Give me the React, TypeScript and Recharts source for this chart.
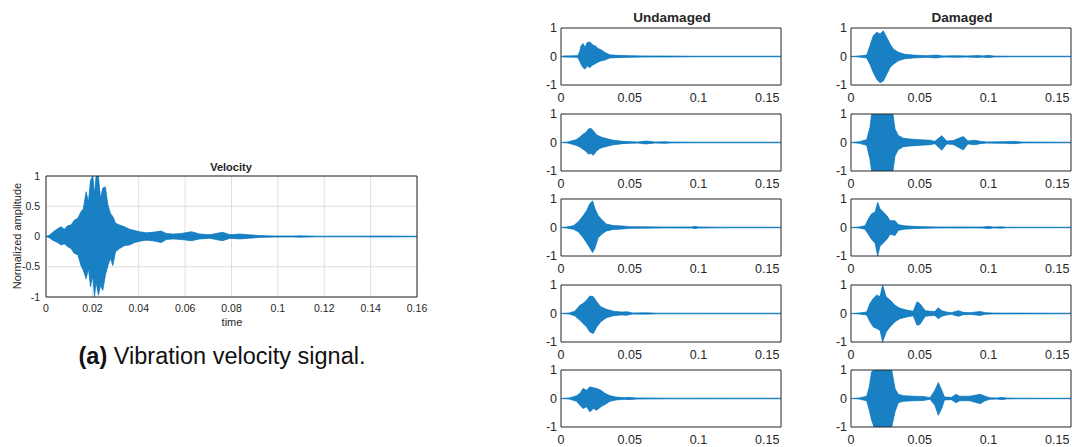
import { ComposedChart, Area, XAxis, YAxis, CartesianGrid, ReferenceArea } from 'recharts'

const BLUE = '#0072BD'
const INK = '#262626'
const FONT = '"Liberation Sans", Arial, Helvetica, sans-serif'

// envelopes (upper / lower), time in s
const VEL_T = [0, 0.0014, 0.0029, 0.005, 0.0065, 0.0079, 0.0094, 0.0108, 0.0122, 0.0137, 0.0151, 0.0161, 0.0173, 0.0183, 0.0192, 0.0202, 0.0209, 0.0216, 0.0226, 0.0235, 0.0245, 0.0256, 0.0267, 0.0278, 0.0288, 0.03, 0.0317, 0.0339, 0.036, 0.0382, 0.0403, 0.0432, 0.0461, 0.0497, 0.0519, 0.0548, 0.0584, 0.0627, 0.0663, 0.0706, 0.0761, 0.0793, 0.0836, 0.0872, 0.0922, 0.098, 0.1066, 0.1095, 0.1167, 0.1311, 0.1455, 0.16]
const VEL_HI = [0, 0.02, 0.07, 0.13, 0.16, 0.12, 0.18, 0.19, 0.27, 0.3, 0.41, 0.46, 0.74, 0.57, 0.93, 1, 0.69, 1, 1, 0.63, 0.8, 0.82, 0.52, 0.38, 0.33, 0.22, 0.19, 0.16, 0.12, 0.1, 0.08, 0.06, 0.07, 0.09, 0.05, 0.04, 0.05, 0.08, 0.04, 0.03, 0.07, 0.03, 0.04, 0.03, 0.015, 0.01, 0.008, 0.012, 0.006, 0.006, 0.007, 0.004]
const VEL_LO = [0, -0.02, -0.06, -0.1, -0.14, -0.12, -0.17, -0.2, -0.28, -0.3, -0.48, -0.56, -0.7, -0.53, -0.83, -0.64, -1, -0.75, -0.97, -0.81, -0.89, -0.64, -0.48, -0.36, -0.48, -0.25, -0.2, -0.15, -0.14, -0.1, -0.08, -0.06, -0.07, -0.1, -0.05, -0.04, -0.05, -0.07, -0.04, -0.03, -0.07, -0.03, -0.04, -0.03, -0.015, -0.01, -0.008, -0.012, -0.006, -0.006, -0.007, -0.004]

const UND1_T = [0, 0.002, 0.012, 0.0135, 0.0145, 0.016, 0.0175, 0.019, 0.021, 0.023, 0.025, 0.027, 0.0295, 0.032, 0.0355, 0.04, 0.05, 0.06, 0.08, 0.1, 0.16]
const UND1_HI = [0, 0.02, 0.03, 0.15, 0.37, 0.46, 0.32, 0.49, 0.51, 0.41, 0.37, 0.28, 0.23, 0.14, 0.06, 0.04, 0.03, 0.02, 0.015, 0.01, 0.01]
const UND1_LO = [0, -0.02, -0.03, -0.15, -0.27, -0.39, -0.44, -0.33, -0.39, -0.3, -0.25, -0.19, -0.15, -0.12, -0.05, -0.04, -0.03, -0.02, -0.015, -0.01, -0.01]

const UND2_T = [0, 0.005, 0.011, 0.014, 0.016, 0.018, 0.02, 0.0218, 0.0235, 0.026, 0.028, 0.0296, 0.0344, 0.038, 0.045, 0.05, 0.056, 0.0615, 0.064, 0.068, 0.0755, 0.08, 0.1, 0.16]
const UND2_HI = [0, 0.02, 0.1, 0.2, 0.29, 0.35, 0.47, 0.5, 0.41, 0.26, 0.22, 0.18, 0.12, 0.08, 0.04, 0.03, 0.02, 0.05, 0.04, 0.02, 0.03, 0.015, 0.01, 0.01]
const UND2_LO = [0, -0.02, -0.1, -0.17, -0.24, -0.3, -0.41, -0.38, -0.45, -0.29, -0.22, -0.18, -0.12, -0.08, -0.04, -0.03, -0.02, -0.05, -0.04, -0.02, -0.03, -0.015, -0.01, -0.01]

const UND3_T = [0, 0.004, 0.009, 0.0126, 0.0162, 0.0187, 0.021, 0.023, 0.0247, 0.027, 0.0296, 0.033, 0.038, 0.045, 0.05, 0.061, 0.075, 0.095, 0.0975, 0.1, 0.12, 0.16]
const UND3_HI = [0, 0.02, 0.06, 0.2, 0.42, 0.6, 0.84, 0.93, 0.66, 0.42, 0.28, 0.12, 0.07, 0.05, 0.03, 0.025, 0.015, 0.02, 0.04, 0.02, 0.01, 0.01]
const UND3_LO = [0, -0.02, -0.06, -0.15, -0.36, -0.54, -0.72, -0.88, -0.72, -0.36, -0.24, -0.12, -0.07, -0.05, -0.03, -0.025, -0.015, -0.02, -0.04, -0.02, -0.01, -0.01]

const UND4_T = [0, 0.006, 0.01, 0.0138, 0.016, 0.0187, 0.021, 0.0235, 0.026, 0.0289, 0.033, 0.038, 0.044, 0.048, 0.052, 0.062, 0.07, 0.1, 0.16]
const UND4_HI = [0, 0.02, 0.08, 0.29, 0.35, 0.47, 0.61, 0.59, 0.41, 0.24, 0.15, 0.08, 0.05, 0.06, 0.02, 0.025, 0.012, 0.01, 0.01]
const UND4_LO = [0, -0.02, -0.08, -0.24, -0.35, -0.47, -0.65, -0.7, -0.47, -0.29, -0.15, -0.08, -0.05, -0.06, -0.02, -0.025, -0.012, -0.01, -0.01]

const UND5_T = [0, 0.006, 0.0114, 0.0138, 0.016, 0.0187, 0.021, 0.0235, 0.026, 0.029, 0.032, 0.0356, 0.04, 0.046, 0.049, 0.055, 0.08, 0.16]
const UND5_HI = [0, 0.02, 0.1, 0.18, 0.35, 0.29, 0.41, 0.38, 0.35, 0.29, 0.18, 0.1, 0.05, 0.03, 0.04, 0.02, 0.012, 0.01]
const UND5_LO = [0, -0.02, -0.1, -0.24, -0.35, -0.29, -0.47, -0.35, -0.41, -0.29, -0.21, -0.1, -0.05, -0.03, -0.04, -0.02, -0.012, -0.01]

const DAM1_T = [0, 0.006, 0.0114, 0.0138, 0.0162, 0.0187, 0.0211, 0.0235, 0.026, 0.0284, 0.0308, 0.0344, 0.039, 0.045, 0.055, 0.062, 0.067, 0.077, 0.084, 0.0926, 0.096, 0.1, 0.104, 0.12, 0.16]
const DAM1_HI = [0, 0.02, 0.05, 0.38, 0.73, 0.85, 0.79, 0.9, 0.67, 0.44, 0.26, 0.15, 0.08, 0.05, 0.03, 0.05, 0.02, 0.03, 0.02, 0.035, 0.02, 0.04, 0.015, 0.01, 0.01]
const DAM1_LO = [0, -0.02, -0.05, -0.27, -0.56, -0.8, -0.92, -0.86, -0.62, -0.39, -0.27, -0.15, -0.08, -0.05, -0.03, -0.05, -0.02, -0.03, -0.02, -0.035, -0.02, -0.04, -0.015, -0.01, -0.01]

const DAM2_T = [0, 0.006, 0.0114, 0.0138, 0.015, 0.02, 0.025, 0.0305, 0.032, 0.0344, 0.038, 0.043, 0.05, 0.0575, 0.061, 0.066, 0.0696, 0.0744, 0.0817, 0.085, 0.09, 0.094, 0.0987, 0.106, 0.111, 0.119, 0.125, 0.16]
const DAM2_HI = [0, 0.03, 0.1, 0.53, 1, 1, 1, 1, 0.47, 0.25, 0.15, 0.12, 0.1, 0.08, 0.04, 0.24, 0.05, 0.07, 0.21, 0.05, 0.08, 0.04, 0.02, 0.025, 0.03, 0.04, 0.015, 0.01]
const DAM2_LO = [0, -0.03, -0.1, -0.59, -1, -1, -1, -1, -0.47, -0.25, -0.15, -0.12, -0.1, -0.08, -0.04, -0.27, -0.05, -0.07, -0.26, -0.05, -0.08, -0.04, -0.02, -0.025, -0.03, -0.04, -0.015, -0.01]

const DAM3_T = [0, 0.006, 0.0102, 0.0126, 0.015, 0.0175, 0.0194, 0.0211, 0.0235, 0.026, 0.0284, 0.032, 0.0344, 0.039, 0.045, 0.0526, 0.062, 0.0696, 0.079, 0.089, 0.096, 0.1, 0.1035, 0.11, 0.113, 0.16]
const DAM3_HI = [0, 0.02, 0.06, 0.3, 0.48, 0.54, 0.88, 0.66, 0.54, 0.42, 0.24, 0.24, 0.1, 0.06, 0.04, 0.03, 0.02, 0.015, 0.02, 0.015, 0.02, 0.04, 0.015, 0.025, 0.01, 0.008]
const DAM3_LO = [0, -0.02, -0.06, -0.24, -0.42, -0.54, -1, -0.66, -0.54, -0.42, -0.24, -0.28, -0.1, -0.06, -0.04, -0.03, -0.02, -0.015, -0.02, -0.015, -0.02, -0.04, -0.015, -0.025, -0.01, -0.008]

const DAM4_T = [0, 0.006, 0.0114, 0.0138, 0.0162, 0.0187, 0.0211, 0.023, 0.0255, 0.0284, 0.032, 0.0356, 0.0405, 0.0453, 0.048, 0.05, 0.054, 0.0575, 0.061, 0.0635, 0.066, 0.0696, 0.073, 0.078, 0.0817, 0.0865, 0.094, 0.0975, 0.1035, 0.16]
const DAM4_HI = [0, 0.02, 0.05, 0.35, 0.53, 0.65, 0.59, 1, 0.59, 0.47, 0.29, 0.18, 0.12, 0.08, 0.41, 0.35, 0.1, 0.08, 0.07, 0.2, 0.1, 0.05, 0.03, 0.1, 0.04, 0.03, 0.07, 0.03, 0.015, 0.01]
const DAM4_LO = [0, -0.02, -0.05, -0.29, -0.47, -0.53, -0.59, -1, -0.65, -0.47, -0.29, -0.18, -0.12, -0.08, -0.41, -0.39, -0.1, -0.08, -0.07, -0.18, -0.1, -0.05, -0.03, -0.1, -0.04, -0.03, -0.07, -0.03, -0.015, -0.01]

const DAM5_T = [0, 0.006, 0.0114, 0.0133, 0.015, 0.0167, 0.02, 0.025, 0.0296, 0.032, 0.0344, 0.038, 0.0453, 0.0526, 0.0575, 0.061, 0.0635, 0.066, 0.068, 0.073, 0.0764, 0.079, 0.0865, 0.094, 0.0975, 0.101, 0.106, 0.11, 0.113, 0.123, 0.16]
const DAM5_HI = [0, 0.02, 0.08, 0.41, 0.94, 1, 1, 1, 1, 0.35, 0.15, 0.1, 0.08, 0.07, 0.03, 0.29, 0.56, 0.29, 0.05, 0.04, 0.15, 0.08, 0.08, 0.15, 0.08, 0.03, 0.02, 0.04, 0.015, 0.01, 0.008]
const DAM5_LO = [0, -0.02, -0.08, -0.41, -0.76, -1, -1, -1, -1, -0.47, -0.15, -0.1, -0.08, -0.07, -0.03, -0.24, -0.59, -0.35, -0.05, -0.04, -0.15, -0.08, -0.08, -0.18, -0.08, -0.03, -0.02, -0.04, -0.015, -0.01, -0.008]

const BIG_X_TICKS = [0, 0.02, 0.04, 0.06, 0.08, 0.1, 0.12, 0.14, 0.16]
const BIG_Y_TICKS = [-1, -0.5, 0, 0.5, 1]
const SMALL_X_TICKS = [0, 0.05, 0.1, 0.15]
const SMALL_Y_TICKS = [-1, 0, 1]

const toRows = (t: number[], hi: number[], lo: number[]) =>
  t.map((v, i) => ({ t: v, env: [lo[i], hi[i]] }))

const UNDAMAGED = [
  toRows(UND1_T, UND1_HI, UND1_LO),
  toRows(UND2_T, UND2_HI, UND2_LO),
  toRows(UND3_T, UND3_HI, UND3_LO),
  toRows(UND4_T, UND4_HI, UND4_LO),
  toRows(UND5_T, UND5_HI, UND5_LO),
]
const DAMAGED = [
  toRows(DAM1_T, DAM1_HI, DAM1_LO),
  toRows(DAM2_T, DAM2_HI, DAM2_LO),
  toRows(DAM3_T, DAM3_HI, DAM3_LO),
  toRows(DAM4_T, DAM4_HI, DAM4_LO),
  toRows(DAM5_T, DAM5_HI, DAM5_LO),
]

const ROW_TOPS = [28, 114, 199, 285, 370]

interface PlotProps {
  rows: { t: number; env: number[] }[]
  xTicks: number[]
  yTicks: number[]
  width: number
  height: number
  yWidth: number
  xHeight: number
  margin: { top: number; right: number; bottom: number; left: number }
  fontSize: number
  xGap: number
  yGap: number
  grid?: boolean
}

function SignalPlot(p: PlotProps) {
  const tick = { fontSize: p.fontSize, fill: INK, fontFamily: FONT }
  return (
    <ComposedChart width={p.width} height={p.height} data={p.rows} margin={p.margin}>
      {p.grid && <CartesianGrid stroke="#dedede" strokeWidth={1} />}
      <XAxis dataKey="t" type="number" domain={[0, 0.16]} ticks={p.xTicks} interval={0}
        height={p.xHeight} tickSize={0} tickMargin={p.xGap} axisLine={false} tick={tick}
        tickFormatter={(v: number) => String(v)} allowDataOverflow />
      <YAxis type="number" domain={[-1, 1]} ticks={p.yTicks} interval={0} width={p.yWidth}
        tickSize={0} tickMargin={p.yGap} axisLine={false} tick={tick}
        tickFormatter={(v: number) => String(v)} allowDataOverflow />
      <Area dataKey="env" type="linear" stroke={BLUE} strokeWidth={0.7} fill={BLUE}
        fillOpacity={0.9} dot={false} activeDot={false} isAnimationActive={false} />
      {/* box around the axes */}
      <ReferenceArea x1={0} x2={0.16} y1={-1} y2={1} fill="none" fillOpacity={0}
        stroke={INK} strokeWidth={1} ifOverflow="visible" />
    </ComposedChart>
  )
}

const abs = (left: number, top: number): React.CSSProperties => ({ position: 'absolute', left, top })

const centered = (left: number, top: number, size: number, bold = false): React.CSSProperties => ({
  position: 'absolute', left, top, transform: 'translate(-50%, -50%)', whiteSpace: 'nowrap',
  fontFamily: FONT, fontSize: size, fontWeight: bold ? 700 : 400, color: INK, lineHeight: 1,
})

export default function App() {
  return (
    <div style={{ position: 'absolute', left: 0, top: 0, width: 1072, height: 447, overflow: 'hidden', background: '#fff', fontFamily: FONT }}>
      {/* left: full velocity trace */}
      <div style={abs(0, 150)}>
        <SignalPlot rows={toRows(VEL_T, VEL_HI, VEL_LO)} xTicks={BIG_X_TICKS} yTicks={BIG_Y_TICKS}
          width={430} height={177} yWidth={46} xHeight={30}
          margin={{ top: 26, right: 13, bottom: 0, left: 0 }} fontSize={10.5} xGap={8} yGap={6} grid />
      </div>
      <div style={centered(231, 167, 11, true)}>Velocity</div>
      <div style={centered(232, 322, 11)}>time</div>
      <div style={{ ...centered(17, 236, 11), transform: 'translate(-50%, -50%) rotate(-90deg)' }}>Normalized amplitude</div>
      <div style={{ ...centered(222, 357, 23.5), color: '#111' }}><b>(a)</b> Vibration velocity signal.</div>

      {/* right: undamaged / damaged grid */}
      <div style={centered(672, 18, 13.5, true)}>Undamaged</div>
      <div style={centered(962, 18, 13.5, true)}>Damaged</div>
      {UNDAMAGED.map((rows, i) => (
        <div key={'u' + i} style={abs(531, ROW_TOPS[i] - 8)}>
          <SignalPlot rows={rows} xTicks={SMALL_X_TICKS} yTicks={SMALL_Y_TICKS}
            width={251} height={85} yWidth={30} xHeight={20}
            margin={{ top: 8, right: 1, bottom: 0, left: 0 }} fontSize={12.5} xGap={8} yGap={4} />
        </div>
      ))}
      {DAMAGED.map((rows, i) => (
        <div key={'d' + i} style={abs(821, ROW_TOPS[i] - 8)}>
          <SignalPlot rows={rows} xTicks={SMALL_X_TICKS} yTicks={SMALL_Y_TICKS}
            width={251} height={85} yWidth={30} xHeight={20}
            margin={{ top: 8, right: 1, bottom: 0, left: 0 }} fontSize={12.5} xGap={8} yGap={4} />
        </div>
      ))}
    </div>
  )
}
